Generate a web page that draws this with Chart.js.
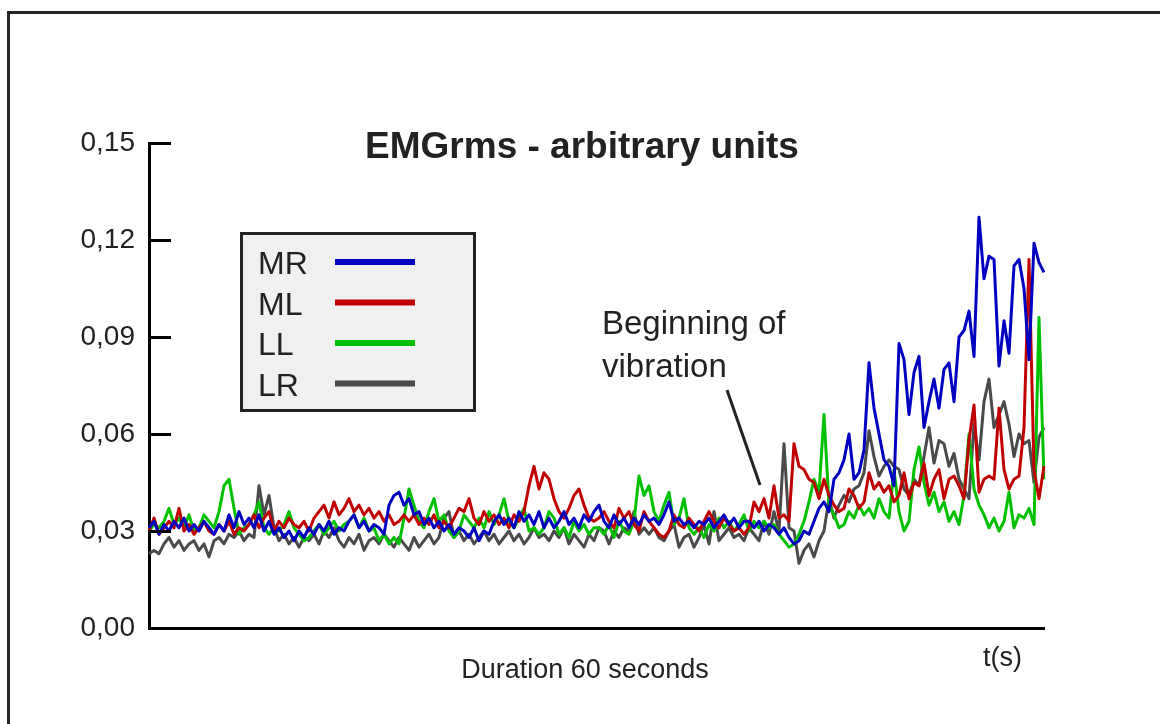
<!DOCTYPE html>
<html>
<head>
<meta charset="utf-8">
<script src="https://cdn.jsdelivr.net/npm/chart.js@4.4.1/dist/chart.umd.min.js"></script>
<style>
body { margin: 0; background: #fff; }
#caja { width: 1160px; height: 724px; }
</style>
</head>
<body>
<div id="caja"><canvas id="EMGChart"></canvas></div>
<script>
// Valores EMGrms (180 muestras en 60 s)
var MR = [
  0.031,0.033,0.029,0.032,0.030,0.033,0.031,0.034,0.030,0.032,
  0.030,0.033,0.031,0.029,0.032,0.030,0.035,0.031,0.036,0.032,
  0.034,0.031,0.035,0.030,0.033,0.029,0.031,0.028,0.030,0.027,
  0.030,0.028,0.031,0.029,0.032,0.030,0.033,0.029,0.031,0.030,
  0.033,0.035,0.031,0.033,0.030,0.032,0.031,0.029,0.038,0.041,
  0.042,0.038,0.040,0.035,0.036,0.032,0.034,0.031,0.033,0.030,
  0.032,0.029,0.031,0.030,0.028,0.031,0.027,0.030,0.029,0.033,
  0.035,0.032,0.034,0.031,0.036,0.033,0.035,0.032,0.036,0.031,
  0.034,0.031,0.033,0.036,0.032,0.034,0.031,0.035,0.033,0.036,
  0.038,0.033,0.031,0.035,0.032,0.034,0.031,0.034,0.032,0.035,
  0.033,0.034,0.032,0.035,0.039,0.033,0.034,0.032,0.033,0.031,
  0.033,0.032,0.034,0.031,0.033,0.035,0.032,0.034,0.031,0.033,
  0.033,0.031,0.033,0.030,0.032,0.031,0.029,0.031,0.028,0.026,
  0.027,0.030,0.029,0.033,0.037,0.039,0.036,0.046,0.048,0.052,
  0.060,0.046,0.048,0.055,0.082,0.068,0.060,0.052,0.050,0.044,
  0.088,0.083,0.066,0.079,0.084,0.062,0.070,0.077,0.068,0.080,
  0.082,0.070,0.090,0.092,0.098,0.084,0.127,0.108,0.115,0.114,
  0.081,0.095,0.085,0.112,0.114,0.105,0.083,0.119,0.113,0.110
];
var ML = [
  0.030,0.034,0.029,0.031,0.033,0.031,0.037,0.030,0.032,0.029,
  0.031,0.033,0.030,0.029,0.032,0.030,0.033,0.029,0.031,0.030,
  0.032,0.035,0.031,0.034,0.036,0.030,0.033,0.031,0.034,0.032,
  0.031,0.033,0.030,0.034,0.036,0.038,0.034,0.039,0.035,0.037,
  0.040,0.036,0.038,0.035,0.037,0.034,0.036,0.033,0.035,0.032,
  0.033,0.035,0.033,0.035,0.032,0.034,0.032,0.035,0.031,0.033,
  0.031,0.034,0.037,0.036,0.040,0.034,0.032,0.036,0.033,0.035,
  0.032,0.034,0.031,0.035,0.033,0.036,0.044,0.050,0.043,0.048,
  0.046,0.040,0.036,0.034,0.037,0.041,0.043,0.038,0.034,0.033,
  0.034,0.036,0.033,0.031,0.037,0.034,0.036,0.032,0.030,0.036,
  0.033,0.031,0.029,0.028,0.030,0.035,0.032,0.031,0.034,0.032,
  0.030,0.033,0.036,0.033,0.031,0.034,0.032,0.030,0.031,0.029,
  0.031,0.039,0.036,0.040,0.034,0.044,0.034,0.035,0.033,0.057,
  0.050,0.049,0.046,0.045,0.040,0.046,0.041,0.038,0.036,0.037,
  0.043,0.041,0.037,0.039,0.048,0.043,0.045,0.042,0.044,0.039,
  0.041,0.048,0.040,0.045,0.044,0.051,0.041,0.046,0.049,0.040,
  0.046,0.047,0.044,0.040,0.058,0.069,0.042,0.046,0.047,0.046,
  0.068,0.049,0.043,0.046,0.047,0.062,0.114,0.049,0.040,0.050
];
var LL = [
  0.030,0.032,0.031,0.033,0.037,0.032,0.034,0.031,0.035,0.030,
  0.031,0.035,0.033,0.031,0.036,0.044,0.046,0.037,0.029,0.031,
  0.032,0.035,0.039,0.031,0.029,0.031,0.030,0.032,0.036,0.031,
  0.029,0.027,0.028,0.030,0.032,0.029,0.031,0.033,0.030,0.032,
  0.033,0.035,0.031,0.034,0.030,0.031,0.027,0.029,0.026,0.028,
  0.026,0.034,0.043,0.038,0.033,0.031,0.036,0.040,0.033,0.035,
  0.030,0.028,0.030,0.035,0.033,0.031,0.034,0.031,0.036,0.032,
  0.035,0.040,0.033,0.031,0.034,0.037,0.030,0.031,0.029,0.031,
  0.036,0.034,0.029,0.031,0.028,0.033,0.030,0.032,0.029,0.031,
  0.031,0.029,0.032,0.028,0.033,0.030,0.029,0.033,0.047,0.041,
  0.044,0.036,0.033,0.038,0.042,0.032,0.034,0.040,0.031,0.029,
  0.031,0.028,0.032,0.030,0.034,0.031,0.033,0.030,0.032,0.035,
  0.030,0.033,0.031,0.033,0.031,0.032,0.029,0.027,0.025,0.026,
  0.029,0.033,0.039,0.046,0.042,0.066,0.038,0.035,0.031,0.032,
  0.036,0.034,0.038,0.035,0.037,0.034,0.040,0.036,0.034,0.049,
  0.036,0.030,0.033,0.049,0.056,0.045,0.038,0.042,0.036,0.039,
  0.033,0.036,0.032,0.041,0.060,0.043,0.038,0.035,0.031,0.034,
  0.030,0.033,0.042,0.031,0.035,0.034,0.037,0.032,0.096,0.046
];
var LR = [
  0.023,0.024,0.023,0.026,0.028,0.025,0.027,0.024,0.026,0.027,
  0.024,0.026,0.022,0.027,0.028,0.026,0.029,0.028,0.030,0.027,
  0.029,0.028,0.044,0.035,0.041,0.031,0.027,0.029,0.026,0.028,
  0.025,0.028,0.027,0.029,0.026,0.030,0.028,0.031,0.027,0.025,
  0.028,0.026,0.029,0.024,0.027,0.028,0.026,0.029,0.027,0.025,
  0.028,0.026,0.024,0.028,0.025,0.027,0.029,0.026,0.028,0.034,
  0.036,0.028,0.030,0.027,0.029,0.026,0.028,0.030,0.027,0.029,
  0.026,0.028,0.030,0.027,0.029,0.026,0.028,0.031,0.028,0.029,
  0.027,0.030,0.028,0.031,0.026,0.029,0.027,0.025,0.029,0.027,
  0.031,0.030,0.026,0.030,0.028,0.031,0.030,0.036,0.029,0.031,
  0.029,0.031,0.028,0.027,0.030,0.032,0.025,0.028,0.029,0.025,
  0.028,0.032,0.026,0.036,0.027,0.029,0.031,0.028,0.029,0.027,
  0.031,0.029,0.027,0.033,0.029,0.036,0.030,0.057,0.031,0.030,
  0.020,0.024,0.026,0.022,0.027,0.030,0.040,0.034,0.038,0.041,
  0.039,0.043,0.044,0.048,0.061,0.053,0.047,0.050,0.052,0.050,
  0.049,0.043,0.041,0.046,0.044,0.053,0.062,0.051,0.058,0.057,
  0.050,0.054,0.046,0.043,0.040,0.063,0.052,0.070,0.077,0.062,
  0.066,0.070,0.063,0.053,0.060,0.057,0.058,0.045,0.059,0.062
];

var nombres = ['MR', 'ML', 'LL', 'LR'];
var colores = ['#0000c0', '#c00000', '#00c000', '#4a4a4a'];
var ticksY = [0, 0.03, 0.06, 0.09, 0.12, 0.15];
// eje x: segundos de cada muestra
var segundos = MR.map(function(v, i) { return (i * 60 / (MR.length - 1)).toFixed(2); });

var fuente = "'Liberation Sans', Arial, sans-serif";

// Marco, marcas del eje, titulo, leyenda y textos
var decoracion = {
  id: 'decoracion',
  beforeDraw: function(chart) {
    var c = chart.ctx;
    c.save();
    c.fillStyle = '#fff';
    c.fillRect(0, 0, chart.width, chart.height);
    c.strokeStyle = '#262626';
    c.lineWidth = 3;
    c.strokeRect(8.5, 12.5, 1200, 800);
    c.restore();
  },
  afterDraw: function(chart) {
    var c = chart.ctx;
    var area = chart.chartArea;
    var ejeY = chart.scales.y;
    c.save();

    // marcas hacia dentro
    c.strokeStyle = '#000';
    c.lineWidth = 3;
    ticksY.forEach(function(v) {
      if (v === 0) return;
      var y = Math.round(ejeY.getPixelForValue(v)) + 0.5;
      c.beginPath();
      c.moveTo(area.left - 1, y);
      c.lineTo(area.left + 22, y);
      c.stroke();
    });

    // titulo
    c.fillStyle = '#222';
    c.font = 'bold 37px ' + fuente;
    c.textAlign = 'center';
    c.textBaseline = 'alphabetic';
    c.fillText('EMGrms - arbitrary units', 582, 158);

    // leyenda
    c.fillStyle = '#f0f0f0';
    c.fillRect(241, 233, 233, 177);
    c.strokeStyle = '#222';
    c.lineWidth = 3;
    c.strokeRect(241.5, 233.5, 233, 177);
    c.textAlign = 'left';
    c.font = '32px ' + fuente;
    chart.data.datasets.forEach(function(ds, i) {
      var base = 274 + i * 40.5;
      c.fillStyle = '#222';
      c.fillText(ds.label, 258, base);
      c.strokeStyle = ds.borderColor;
      c.lineWidth = 6;
      c.beginPath();
      c.moveTo(335, base - 12);
      c.lineTo(415, base - 12);
      c.stroke();
    });

    // nota del inicio de la vibracion
    c.fillStyle = '#222';
    c.font = '33px ' + fuente;
    c.fillText('Beginning of', 602, 334);
    c.fillText('vibration', 602, 377);
    c.strokeStyle = '#222';
    c.lineWidth = 3;
    c.beginPath();
    c.moveTo(727, 390);
    c.lineTo(760, 485);
    c.stroke();

    // textos del eje x
    c.font = '27px ' + fuente;
    c.textAlign = 'center';
    c.fillText('Duration 60 seconds', 585, 678);
    c.textAlign = 'left';
    c.fillText('t(s)', 983, 666);
    c.restore();
  }
};

var ctx = document.getElementById('EMGChart').getContext('2d');
var series = [MR, ML, LL, LR];

var grafica = new Chart(ctx, {
  type: 'line',
  data: {
    labels: segundos,
    datasets: series.map(function(d, i) {
      return {
        label: nombres[i],
        data: d,
        borderColor: colores[i],
        backgroundColor: colores[i],
        borderWidth: 3,
        pointRadius: 0,
        tension: 0,
        borderJoinStyle: 'round',
        fill: false
      };
    })
  },
  options: {
    responsive: true,
    maintainAspectRatio: false,
    animation: false,
    layout: { padding: { top: 143, right: 116, left: 0, bottom: 0 } },
    plugins: {
      legend: { display: false },
      tooltip: { enabled: false },
      title: { display: false }
    },
    scales: {
      x: {
        grid: { display: false, drawTicks: false },
        border: { display: true, color: '#000', width: 3 },
        ticks: { display: false },
        afterFit: function(s) { s.height = 96; }
      },
      y: {
        min: 0,
        max: 0.15,
        grid: { display: false, drawTicks: false, tickLength: 0 },
        border: { display: true, color: '#000', width: 3 },
        ticks: {
          padding: 14,
          color: '#222',
          font: { family: fuente, size: 28 },
          callback: function(v) { return Number(v).toFixed(2).replace('.', ','); }
        },
        afterBuildTicks: function(s) {
          s.ticks = ticksY.map(function(v) { return { value: v }; });
        },
        afterFit: function(s) { s.width = 149; }
      }
    }
  },
  plugins: [decoracion]
});
</script>
</body>
</html>
